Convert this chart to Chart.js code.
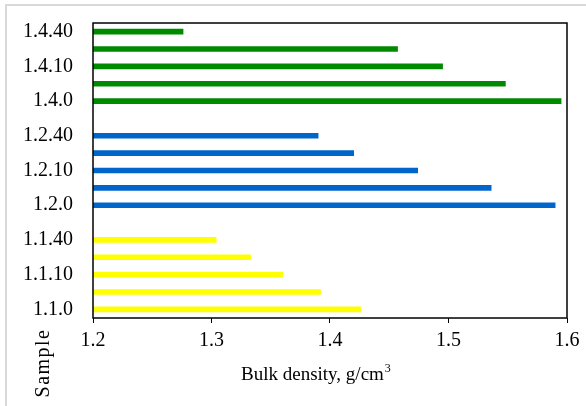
<!DOCTYPE html>
<html lang="en">
<head>
  <meta charset="UTF-8" />
  <title>Bulk density by sample</title>
  <script src="https://cdn.jsdelivr.net/npm/chart.js"></script>
  <style>
    html, body { margin: 0; padding: 0; background: #fff; }
    #chart { display: block; }
  </style>
</head>
<body>
  <canvas id="chart" width="586" height="406"></canvas>

  <script>
    // categories bottom -> top, empty labels are the gaps between groups
    const categories = ['1.1.0', '1.1.5', '1.1.10', '1.1.20', '1.1.40', '',
                        '1.2.0', '1.2.5', '1.2.10', '1.2.20', '1.2.40', '',
                        '1.4.0', '1.4.5', '1.4.10', '1.4.20', '1.4.40'];
    const yellowVals = [1.426, 1.392, 1.360, 1.333, 1.304];
    const blueVals = [1.590, 1.536, 1.474, 1.420, 1.390];
    const greenVals = [1.595, 1.548, 1.495, 1.457, 1.276];
    const xTicks = [1.2, 1.3, 1.4, 1.5, 1.6];

    // put a group of values on its own rows, null elsewhere
    function placeAt(vals, start) {
      const out = categories.map(() => null);
      vals.forEach((v, i) => { out[start + i] = v; });
      return out;
    }

    const serif = '"Liberation Serif", "DejaVu Serif", serif';

    const frame = {
      id: 'frame',
      beforeDraw(chart) {
        const ctx = chart.ctx;
        ctx.save();
        ctx.fillStyle = '#fff';
        ctx.fillRect(0, 0, chart.width, chart.height);
        ctx.strokeStyle = '#d9d9d9';
        ctx.lineWidth = 2;
        ctx.beginPath();
        ctx.moveTo(6, 406);
        ctx.lineTo(6, 5);
        ctx.lineTo(586, 5);
        ctx.stroke();
        ctx.restore();
      },
      afterDraw(chart) {
        const ctx = chart.ctx;
        const a = chart.chartArea;
        ctx.save();
        ctx.strokeStyle = '#000';
        ctx.lineWidth = 1.5;
        ctx.strokeRect(a.left, a.top, a.right - a.left, a.bottom - a.top);

        // x title with superscript
        ctx.fillStyle = '#000';
        ctx.font = '19px ' + serif;
        ctx.textBaseline = 'alphabetic';
        ctx.textAlign = 'left';
        const main = 'Bulk density, g/cm';
        ctx.fillText(main, 241, 380);
        const w = ctx.measureText(main).width;
        ctx.font = '12px ' + serif;
        ctx.fillText('3', 241 + w + 1, 372);

        // y title, placed low like the original
        ctx.font = '20px ' + serif;
        ctx.letterSpacing = '1.5px';
        ctx.translate(49, 363);
        ctx.rotate(-Math.PI / 2);
        ctx.textAlign = 'center';
        ctx.fillText('Sample', 0, 0);
        ctx.restore();
      }
    };

    new Chart(document.getElementById('chart'), {
      type: 'bar',
      data: {
        labels: categories,
        datasets: [
          { label: 'yellow', data: placeAt(yellowVals, 0), backgroundColor: '#ffff00' },
          { label: 'blue', data: placeAt(blueVals, 6), backgroundColor: '#0066cc' },
          { label: 'green', data: placeAt(greenVals, 12), backgroundColor: '#008a00' }
        ]
      },
      options: {
        indexAxis: 'y',
        responsive: false,
        animation: false,
        devicePixelRatio: 1,
        datasets: { bar: { grouped: false, barThickness: 5, borderWidth: 0 } },
        layout: { padding: { top: 23, right: 19, left: 0, bottom: 0 } },
        plugins: {
          legend: { display: false },
          tooltip: { enabled: false }
        },
        scales: {
          x: {
            min: 1.2,
            max: 1.6,
            afterFit(scale) { scale.height = 88; },
            afterBuildTicks(scale) { scale.ticks = xTicks.map(v => ({ value: v })); },
            grid: { drawOnChartArea: false, drawTicks: true, tickLength: 5, color: '#000' },
            border: { display: false },
            ticks: {
              color: '#000',
              font: { family: serif, size: 20 },
              padding: 6,
              callback: v => v.toFixed(1)
            }
          },
          y: {
            reverse: true,
            afterFit(scale) {
              scale.width = 93;
              scale.paddingTop = 0;
              scale.paddingBottom = 0;
            },
            grid: { display: false, drawTicks: false },
            border: { display: false },
            ticks: {
              autoSkip: false,
              color: '#000',
              font: { family: serif, size: 20 },
              padding: 20,
              callback: (v, i) => (i % 2 === 0 ? categories[i] : '')
            }
          }
        }
      },
      plugins: [frame]
    });
  </script>
</body>
</html>
